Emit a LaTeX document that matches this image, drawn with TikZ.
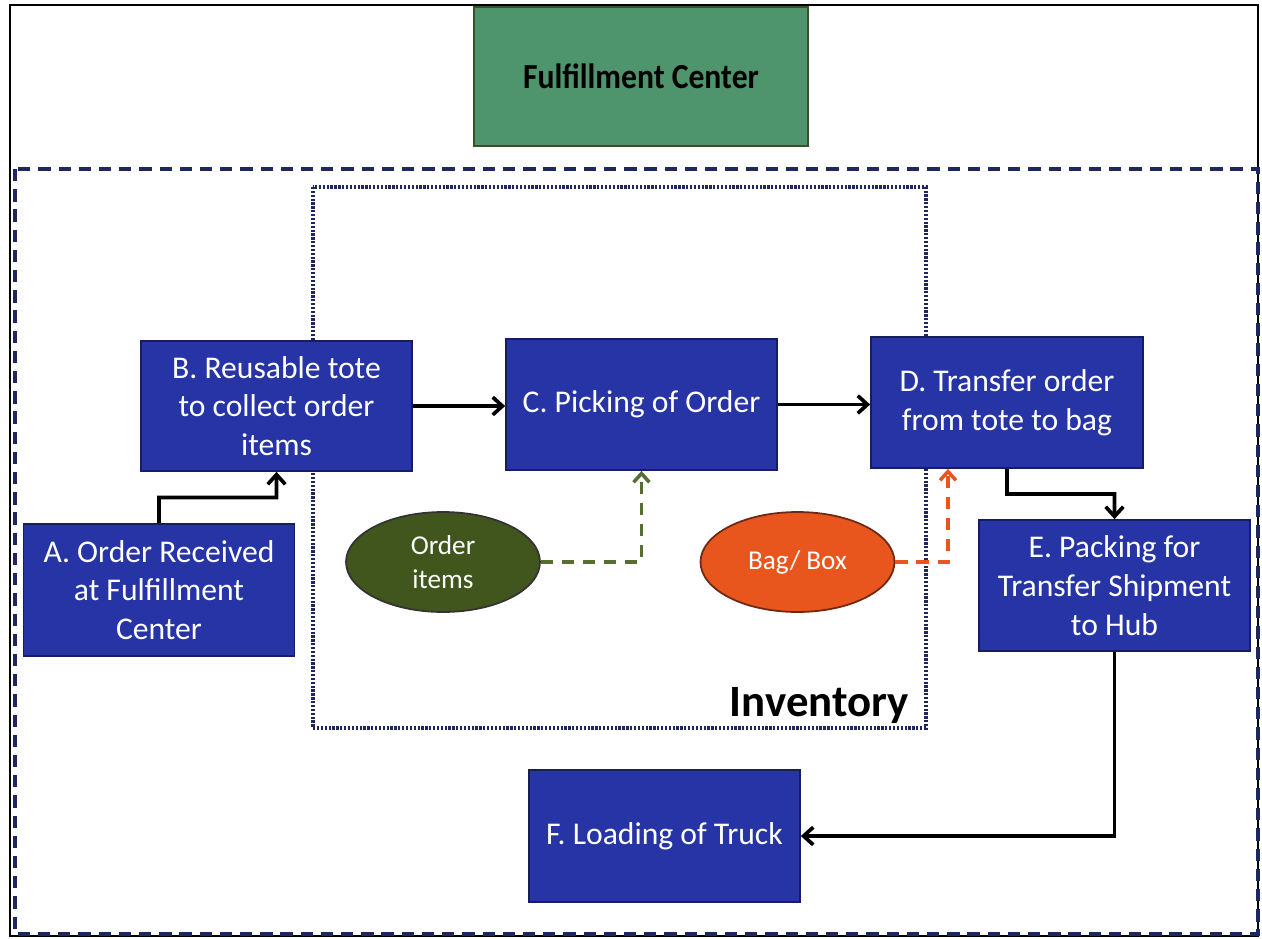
\documentclass[tikz,border=0pt]{standalone}
\usepackage{fontspec}
\setmainfont{Carlito}
\usetikzlibrary{arrows.meta,calc,shapes.geometric}
\definecolor{stepblue}{RGB}{38,52,166}
\definecolor{stepedge}{RGB}{22,30,96}
\definecolor{navyline}{RGB}{30,40,95}
\definecolor{centergreen}{RGB}{78,148,108}
\definecolor{centeredge}{RGB}{60,80,40}
\definecolor{itemgreen}{RGB}{64,86,28}
\definecolor{itemline}{RGB}{88,110,48}
\definecolor{bagorange}{RGB}{232,86,30}
\definecolor{bagedge}{RGB}{110,40,20}
\tikzset{
  stepbox/.style={draw=stepedge, line width=1pt, fill=stepblue, text=white,
    inner sep=0pt, align=center, font=\fontsize{18}{22}\selectfont},
  blob/.style={ellipse, line width=1pt, inner sep=0pt, text=white, align=center,
    minimum width=3.88cm, minimum height=2cm, font=\fontsize{15.5}{19}\selectfont},
  flow/.style={draw=black, line width=2.1pt, -{Straight Barb[length=5.5pt,width=10pt,line width=2.1pt]}},
  supply/.style={line width=2pt, dash pattern=on 7pt off 5pt,
    -{Straight Barb[length=5pt,width=9pt,line width=2pt]}}
}
\begin{document}
\begin{tikzpicture}[x=0.02cm,y=-0.02cm]
\useasboundingbox (0,0) rectangle (1262,938);
% page frame
\draw[black, line width=1pt] (10,5) rectangle (1258,936);
% fulfillment center zone
\draw[navyline, line width=2.2pt, dash pattern=on 7pt off 4.5pt] (15,169) rectangle (1258,934);
% inventory area
\draw[navyline, line width=1.8pt, dash pattern=on 1.3pt off 0.9pt] (313,187) rectangle (926,728);
\node[anchor=base east, font=\bfseries\fontsize{25.5}{30}\selectfont] (inv) at (915,716) {Inventory};
% title
\node[draw=centeredge, line width=1pt, fill=centergreen, minimum width=6.68cm, minimum height=2.78cm,
  font=\bfseries\fontsize{20}{24}\selectfont] (fc) at (641,76.5) {\scalebox{0.9}[1]{Fulfillment Center}};
% process steps
\node[stepbox, minimum width=5.42cm, minimum height=2.64cm] (A) at (159,590) {A. Order Received\\at Fulfillment\\Center};
\node[stepbox, minimum width=5.42cm, minimum height=2.6cm] (B) at (276.5,406) {B. Reusable tote\\to collect order\\items};
\node[stepbox, minimum width=5.42cm, minimum height=2.62cm] (C) at (641.5,404.5) {C. Picking of Order};
\node[stepbox, minimum width=5.44cm, minimum height=2.62cm] (D) at (1007,402.5) {D. Transfer order\\from tote to bag};
\node[stepbox, minimum width=5.42cm, minimum height=2.62cm] (E) at (1114.5,585.5) {E. Packing for\\Transfer Shipment\\to Hub};
\node[stepbox, minimum width=5.42cm, minimum height=2.64cm] (F) at (664.5,836) {F. Loading of Truck};
% supplies
\node[blob, draw=black!80, fill=itemgreen] (items) at (443,562) {Order\\items};
\node[blob, draw=bagedge, fill=bagorange] (bag) at (797.5,562) {Bag/ Box};
% connectors
\draw[flow] (A.north) -- ($(A.north)!0.5!(A.north |- B.south)$) -| (B.south);
\draw[flow] (B.east) -- (C.west |- B.east);
\draw[flow] (C.east) -- (D.west |- C.east);
\draw[flow] (D.south) -- ($(D.south)!0.5!(D.south |- E.north)$) -| (E.north);
\draw[flow] (E.south) |- (F.east);
\draw[supply, draw=itemline] (items.east) -| (C.south);
\draw[supply, draw=bagorange] (bag.east) -| ($(D.south)+(-59,0)$);
\end{tikzpicture}
\end{document}
